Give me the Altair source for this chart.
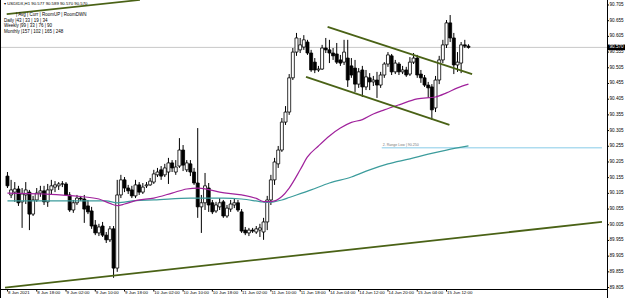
import altair as alt
import pandas as pd

# ---------------- data (USDIDX, H1) ----------------
opens = [
    90.160, 90.100, 90.109, 90.119, 90.078, 90.100, 90.109, 90.039, 90.084, 90.106,
    90.113, 90.078, 90.116, 90.125, 90.129, 90.135, 90.135, 90.100, 90.052, 90.075,
    90.090, 90.087, 90.065, 90.049, 90.004, 89.979, 90.001, 89.972, 89.957, 89.992,
    89.867, 90.100, 90.148, 90.122, 90.116, 90.097, 90.132, 90.109, 90.129, 90.132,
    90.141, 90.164, 90.180, 90.164, 90.173, 90.202, 90.173, 90.192, 90.243, 90.180,
    90.199, 90.173, 90.138, 90.062, 90.075, 90.122, 90.075, 90.049, 90.062, 90.078,
    90.033, 90.055, 90.068, 90.075, 90.046, 89.988, 89.979, 89.988, 89.982, 89.988,
    89.982, 90.014, 90.084, 90.148, 90.199, 90.243, 90.332, 90.364, 90.473, 90.555,
    90.562, 90.571, 90.587, 90.552, 90.523, 90.498, 90.501, 90.568, 90.562, 90.552,
    90.549, 90.530, 90.523, 90.536, 90.511, 90.504, 90.453, 90.498, 90.444, 90.473,
    90.460, 90.466, 90.450, 90.482, 90.517, 90.543, 90.492, 90.517, 90.492, 90.498,
    90.485, 90.523, 90.536, 90.485, 90.473, 90.450, 90.444, 90.377, 90.466, 90.530,
    90.578, 90.648, 90.600, 90.514, 90.520, 90.578, 90.574]

closes = [
    90.129, 90.116, 90.119, 90.075, 90.103, 90.116, 90.039, 90.084, 90.106, 90.113,
    90.078, 90.116, 90.129, 90.132, 90.135, 90.135, 90.100, 90.052, 90.075, 90.090,
    90.087, 90.055, 90.046, 90.001, 89.979, 89.998, 89.972, 89.957, 89.992, 89.867,
    90.100, 90.148, 90.122, 90.113, 90.097, 90.132, 90.109, 90.125, 90.132, 90.144,
    90.167, 90.173, 90.160, 90.186, 90.202, 90.186, 90.189, 90.243, 90.195, 90.202,
    90.173, 90.138, 90.062, 90.075, 90.129, 90.068, 90.046, 90.068, 90.075, 90.033,
    90.058, 90.071, 90.075, 90.052, 89.985, 89.979, 89.988, 89.985, 89.992, 89.995,
    90.014, 90.084, 90.148, 90.205, 90.243, 90.332, 90.364, 90.473, 90.555, 90.600,
    90.578, 90.594, 90.552, 90.498, 90.498, 90.501, 90.568, 90.562, 90.552, 90.543,
    90.523, 90.520, 90.555, 90.466, 90.482, 90.453, 90.492, 90.444, 90.476, 90.460,
    90.466, 90.450, 90.482, 90.517, 90.546, 90.492, 90.520, 90.492, 90.498, 90.482,
    90.523, 90.536, 90.482, 90.473, 90.450, 90.441, 90.371, 90.466, 90.530, 90.578,
    90.648, 90.600, 90.514, 90.523, 90.578, 90.574, 90.570]

highs = [
    90.173, 90.148, 90.141, 90.129, 90.122, 90.141, 90.116, 90.097, 90.122, 90.129,
    90.129, 90.135, 90.148, 90.144, 90.141, 90.144, 90.141, 90.109, 90.084, 90.100,
    90.097, 90.100, 90.084, 90.062, 90.020, 90.008, 90.014, 89.982, 90.001, 90.001,
    90.148, 90.164, 90.157, 90.132, 90.129, 90.148, 90.141, 90.138, 90.141, 90.154,
    90.180, 90.186, 90.192, 90.199, 90.218, 90.211, 90.211, 90.281, 90.259, 90.211,
    90.211, 90.186, 90.313, 90.100, 90.170, 90.138, 90.084, 90.078, 90.090, 90.084,
    90.068, 90.084, 90.090, 90.084, 90.055, 89.998, 89.995, 89.995, 90.001, 90.008,
    90.027, 90.097, 90.164, 90.218, 90.256, 90.345, 90.383, 90.485, 90.568, 90.616,
    90.600, 90.609, 90.594, 90.562, 90.536, 90.511, 90.578, 90.600, 90.594, 90.568,
    90.584, 90.546, 90.594, 90.594, 90.536, 90.530, 90.504, 90.511, 90.498, 90.488,
    90.479, 90.492, 90.492, 90.523, 90.555, 90.549, 90.530, 90.523, 90.511, 90.508,
    90.539, 90.552, 90.546, 90.498, 90.482, 90.460, 90.453, 90.479, 90.543, 90.594,
    90.657, 90.673, 90.616, 90.555, 90.587, 90.594, 90.580]

lows = [
    90.122, 90.090, 90.078, 90.065, 89.995, 90.071, 89.988, 90.033, 90.078, 90.094,
    90.068, 90.062, 90.100, 90.109, 90.116, 90.125, 90.097, 90.046, 90.043, 90.068,
    90.081, 90.011, 90.039, 89.992, 89.972, 89.969, 89.966, 89.947, 89.950, 89.836,
    89.855, 90.090, 90.109, 90.103, 90.090, 90.090, 90.100, 90.103, 90.122, 90.129,
    90.135, 90.157, 90.148, 90.157, 90.135, 90.173, 90.164, 90.186, 90.176, 90.173,
    90.160, 90.132, 90.027, 89.979, 90.052, 90.046, 90.039, 90.043, 90.052, 90.027,
    90.027, 90.046, 90.058, 90.046, 89.979, 89.972, 89.969, 89.979, 89.976, 89.966,
    89.957, 89.988, 90.068, 90.132, 90.186, 90.237, 90.323, 90.355, 90.466, 90.543,
    90.552, 90.562, 90.546, 90.492, 90.488, 90.492, 90.498, 90.552, 90.520, 90.530,
    90.517, 90.511, 90.514, 90.444, 90.473, 90.428, 90.441, 90.412, 90.434, 90.434,
    90.447, 90.409, 90.441, 90.473, 90.508, 90.482, 90.485, 90.482, 90.485, 90.476,
    90.479, 90.517, 90.473, 90.457, 90.444, 90.409, 90.339, 90.364, 90.453, 90.520,
    90.568, 90.587, 90.485, 90.492, 90.488, 90.568, 90.566]

# moving averages (read at sampled bars)
ma_purple_bar = [0, 10, 20, 25, 28, 30, 32, 35, 40, 45, 49, 52, 55, 58, 64, 68, 70, 72,
                 75, 77, 80, 82, 85, 88, 91, 94, 97, 100, 103, 107, 112, 117, 120, 123, 126]
ma_purple_val = [90.106, 90.103, 90.095, 90.087, 90.073, 90.066, 90.071, 90.082, 90.090,
                 90.106, 90.119, 90.122, 90.117, 90.109, 90.100, 90.089, 90.079, 90.079,
                 90.095, 90.122, 90.180, 90.221, 90.256, 90.288, 90.313, 90.331, 90.340,
                 90.358, 90.371, 90.387, 90.406, 90.412, 90.425, 90.441, 90.453]
ma_teal_bar = [0, 13, 27, 30, 35, 40, 50, 59, 64, 69, 71, 75, 77, 83, 88, 94, 99, 104,
               110, 115, 120, 126]
ma_teal_val = [90.081, 90.081, 90.081, 90.075, 90.082, 90.084, 90.090, 90.090, 90.087,
               90.079, 90.076, 90.084, 90.092, 90.116, 90.138, 90.157, 90.180, 90.199,
               90.215, 90.230, 90.243, 90.256]

# trend lines: start/end (bar, price)
trend_names = ["top", "bottom", "channel_up", "channel_low"]
trend_bar0 = [-0.2, -0.67, 87.5, 81.6]
trend_px0 = [90.676, 89.805, 90.635, 90.476]
trend_bar1 = [36.2, 162.5, 127.0, 120.8]
trend_px1 = [90.721, 90.014, 90.485, 90.323]

current_price = 90.570
range_low = 90.250
range_low_start = 102.3
range_low_end = 162.5

x_tick_bars = [0, 8, 16, 24, 32, 40, 48, 56, 64, 72, 80, 88, 96, 104, 112, 120]
x_tick_labels = ["8 Jun 2021", "8 Jun 18:00", "9 Jun 02:00", "9 Jun 10:00", "9 Jun 18:00",
                 "10 Jun 02:00", "10 Jun 10:00", "10 Jun 18:00", "11 Jun 02:00",
                 "11 Jun 10:00", "11 Jun 18:00", "14 Jun 04:00", "14 Jun 12:00",
                 "14 Jun 20:00", "15 Jun 04:00", "15 Jun 12:00"]
y_tick_values = [89.805, 89.855, 89.905, 89.955, 90.005, 90.055, 90.105, 90.155, 90.205,
                 90.255, 90.305, 90.355, 90.405, 90.455, 90.505, 90.555, 90.605, 90.655,
                 90.705]

info_lines = ["| Avg | Curr | RoomUP | RoomDWN",
              "Daily  |43 | 33 | 19 | 34",
              "Weekly  |99 | 33 | 76 | 90",
              "Monthly  |157 | 102 | 165 | 248"]
title_line = "\u25be USDIDX,H1  90.577 90.589 90.570 90.570"
range_text = "2. Range Low | 90.250"

# ---------------- chart ----------------
FONT = "Liberation Sans"
W, H = 606, 289
AX = 606  # right axis position (pixels, within the plot group)
xs = alt.Scale(domain=[-0.4, 162.5], nice=False, zero=False)
ys = alt.Scale(domain=[89.8004, 90.7209], nice=False, zero=False)


def X(field):
    return alt.X(field, scale=xs, axis=None)


def Y(field):
    return alt.Y(field, scale=ys, axis=None)


candles = pd.DataFrame({"bar": list(range(len(opens))), "o": opens, "h": highs,
                        "l": lows, "c": closes})
candles["dir"] = ["up" if c >= o else "down" for o, c in zip(opens, closes)]

wicks = alt.Chart(candles).mark_rule(color="black", strokeWidth=1, clip=True).encode(
    x=X("bar:Q"), y=Y("l:Q"), y2="h:Q")

bodies = alt.Chart(candles).mark_bar(size=3, stroke="black", strokeWidth=0.8, clip=True).encode(
    x=X("bar:Q"), y=Y("o:Q"), y2="c:Q",
    color=alt.Color("dir:N", scale=alt.Scale(domain=["up", "down"], range=["white", "black"]),
                    legend=None))

price_line = alt.Chart(pd.DataFrame({"p": [current_price]})).mark_rule(
    color="#c8c8c8", strokeWidth=1).encode(y=Y("p:Q"), x=alt.value(0), x2=alt.value(AX))

range_df = pd.DataFrame({"b0": [range_low_start], "b1": [range_low_end], "p": [range_low],
                         "t": [range_text]})
range_line = alt.Chart(range_df).mark_rule(color="#86cbe8", strokeWidth=1, clip=True).encode(
    x=X("b0:Q"), x2="b1:Q", y=Y("p:Q"))
range_label = alt.Chart(range_df).mark_text(
    align="left", baseline="bottom", dx=1, dy=-1, fontSize=3.6, font=FONT, color="#777777"
).encode(x=X("b0:Q"), y=Y("p:Q"), text="t:N")

ma_p = alt.Chart(pd.DataFrame({"bar": ma_purple_bar, "v": ma_purple_val})).mark_line(
    color="#a0229c", strokeWidth=1.2, interpolate="monotone", clip=True).encode(
    x=X("bar:Q"), y=Y("v:Q"))
ma_t = alt.Chart(pd.DataFrame({"bar": ma_teal_bar, "v": ma_teal_val})).mark_line(
    color="#3c9c9c", strokeWidth=1.2, interpolate="monotone", clip=True).encode(
    x=X("bar:Q"), y=Y("v:Q"))

trend_df = pd.DataFrame({
    "name": trend_names + trend_names,
    "bar": trend_bar0 + trend_bar1,
    "p": trend_px0 + trend_px1})
trends = alt.Chart(trend_df).mark_line(color="#4a6216", strokeWidth=1.8, clip=True).encode(
    x=X("bar:Q"), y=Y("p:Q"), detail="name:N")

# ---- axes (drawn as marks through the same scales) ----
xt_df = pd.DataFrame({"bar": x_tick_bars, "t": x_tick_labels})
x_ticks = alt.Chart(xt_df).mark_rule(color="black", strokeWidth=1).encode(
    x=X("bar:Q"), y=alt.value(H), y2=alt.value(H + 2.5))
x_labels = alt.Chart(xt_df).mark_text(align="left", baseline="top", dx=0.5, fontSize=4.4,
                                      font=FONT, color="black").encode(
    x=X("bar:Q"), y=alt.value(H + 1.5), text="t:N")

yt_df = pd.DataFrame({"p": y_tick_values, "t": [f"{v:.3f}" for v in y_tick_values]})
y_ticks = alt.Chart(yt_df).mark_rule(color="black", strokeWidth=1).encode(
    y=Y("p:Q"), x=alt.value(AX), x2=alt.value(AX + 2))
y_labels = alt.Chart(yt_df).mark_text(align="left", baseline="middle", fontSize=4.6,
                                      font=FONT, color="black").encode(
    y=Y("p:Q"), x=alt.value(AX + 2.5), text="t:N")

bottom_line = alt.Chart(pd.DataFrame({"z": [0]})).mark_rule(color="black", strokeWidth=1).encode(
    x=alt.value(-1), x2=alt.value(AX + 0.5), y=alt.value(H + 0.5))
right_line = alt.Chart(pd.DataFrame({"z": [0]})).mark_rule(color="black", strokeWidth=1).encode(
    x=alt.value(AX + 0.5), y=alt.value(0), y2=alt.value(H + 9))
left_line = alt.Chart(pd.DataFrame({"z": [0]})).mark_rule(color="black", strokeWidth=1).encode(
    x=alt.value(-0.5), y=alt.value(0), y2=alt.value(H + 9))

cp_df = pd.DataFrame({"p": [current_price], "t": [f"{current_price:.3f}"],
                      "a": [current_price + 0.009], "b": [current_price - 0.009]})
cp_box = alt.Chart(cp_df).mark_rect(color="black").encode(
    x=alt.value(AX + 1), x2=alt.value(AX + 19), y=Y("a:Q"), y2="b:Q")
cp_text = alt.Chart(cp_df).mark_text(align="left", baseline="middle", fontSize=4.6,
                                     font=FONT, color="white").encode(
    x=alt.value(AX + 2.5), y=Y("p:Q"), text="t:N")

texts = [alt.Chart(pd.DataFrame({"t": [title_line]})).mark_text(
    align="left", baseline="middle", fontSize=4.3, font=FONT, color="black").encode(
    x=alt.value(3), y=alt.value(4), text="t:N")]
for k, line in enumerate(info_lines):
    texts.append(alt.Chart(pd.DataFrame({"t": [line]})).mark_text(
        align="left", baseline="middle", fontSize=4.5, font=FONT, color="black").encode(
        x=alt.value(15 if k == 0 else 3), y=alt.value(15.3 + 5.4 * k), text="t:N"))

chart = alt.layer(price_line, range_line, range_label, wicks, bodies, ma_t, ma_p, trends,
                  x_ticks, x_labels, y_ticks, y_labels, bottom_line, right_line, left_line,
                  cp_box, cp_text, *texts).properties(
    width=W, height=H,
    padding={"left": 1, "top": 0, "right": 18, "bottom": 9},
    autosize=alt.AutoSizeParams(type="none"),
    background="white",
).configure_view(stroke=None)

chart.save("out.html", embed_options={"renderer": "svg", "actions": False})
